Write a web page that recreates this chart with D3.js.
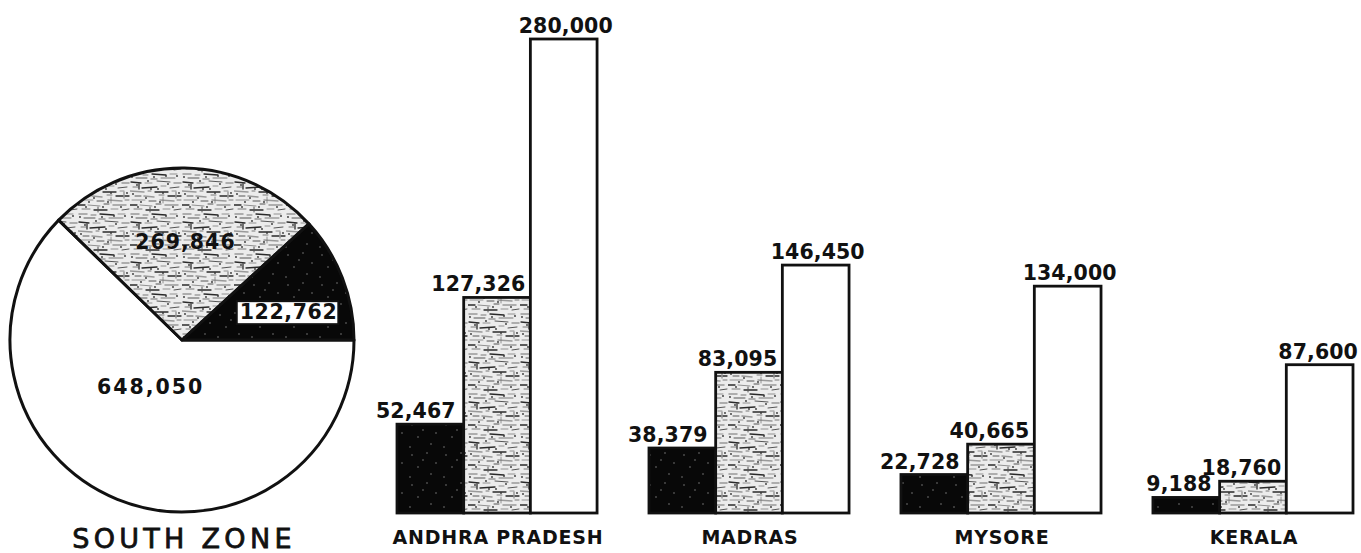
<!DOCTYPE html>
<html>
<head>
<meta charset="utf-8">
<script src="https://cdn.jsdelivr.net/npm/d3@7"></script>
<style>
  html, body { margin: 0; padding: 0; background: #fff; }
  svg { display: block; }
  text { font-family: "DejaVu Sans", sans-serif; fill: #111; }
</style>
</head>
<body>
<svg id="chart" width="1361" height="553"></svg>
<script>
// ---------- DATA ----------
const states = ["ANDHRA PRADESH", "MADRAS", "MYSORE", "KERALA"];
const series = ["black", "stippled", "white"];
const blackValues = [52467, 38379, 22728, 9188];
const stippledValues = [127326, 83095, 40665, 18760];
const whiteValues = [280000, 146450, 134000, 87600];
const pieLabels = ["white", "stippled", "black"];
const pieValues = [648050, 269846, 122762];
const pieTitle = "SOUTH ZONE";

// ---------- SETUP ----------
const W = 1361;
const svg = d3.select("#chart");
const defs = svg.append("defs");
const fmt = d3.format(",");

// stipple texture (hand-drawn streak tile)
const stip = defs.append("pattern").attr("id", "stipple")
  .attr("patternUnits", "userSpaceOnUse").attr("width", 52).attr("height", 40);
stip.append("rect").attr("width", 52).attr("height", 40).attr("fill", "#ececec");
const strokes = [
  [1,2,11,3],[15,3,22,3],[27,1,40,2],[44,3,51,3],
  [3,7,8,7],[12,8,27,7],[31,6,36,6],[40,8,49,7],
  [0,11,14,12],[18,11,21,11],[25,12,38,12],[42,11,46,11],
  [5,16,11,16],[14,16,24,17],[29,15,34,15],[38,16,51,16],
  [2,20,15,20],[19,21,26,21],[30,20,44,21],[47,20,51,20],
  [0,25,7,25],[10,25,22,26],[26,24,31,24],[35,25,48,25],
  [4,29,12,29],[16,30,29,30],[33,29,40,29],[44,30,51,29],
  [1,34,9,34],[13,35,18,35],[22,34,36,35],[40,34,47,34],
  [6,38,17,38],[21,39,27,39],[31,38,45,38],
  [9,4,9,9],[33,17,33,23],[20,27,20,32],[46,12,46,18]
];
stip.selectAll("line").data(strokes).join("line")
  .attr("x1", d => d[0]).attr("y1", d => d[1]).attr("x2", d => d[2]).attr("y2", d => d[3])
  .attr("stroke", (d, i) => ["#2a2a2a", "#777", "#555", "#999", "#444"][i % 5])
  .attr("stroke-width", (d, i) => [1.3, 0.8, 1.0, 1.5, 0.7][i % 5])
  .attr("stroke-linecap", "round");
const specks = [[7,5],[21,9],[33,13],[11,22],[25,27],[3,14],[18,1],[30,22],[16,18],[8,27],
                [38,4],[49,13],[43,27],[36,36],[2,37],[24,37],[47,36],[28,9]];
stip.selectAll("circle").data(specks).join("circle")
  .attr("cx", d => d[0]).attr("cy", d => d[1]).attr("r", 0.9).attr("fill", "#333");

// black texture
const blk = defs.append("pattern").attr("id", "blackTex")
  .attr("patternUnits", "userSpaceOnUse").attr("width", 34).attr("height", 30);
blk.append("rect").attr("width", 34).attr("height", 30).attr("fill", "#080808");
const dots = [[4,5],[19,3],[28,13],[10,17],[23,24],[2,27],[15,10]];
blk.selectAll("circle").data(dots).join("circle")
  .attr("cx", d => d[0]).attr("cy", d => d[1]).attr("r", 0.8)
  .attr("fill", "#fff").attr("opacity", 0.45);

const fillFor = { black: "url(#blackTex)", stippled: "url(#stipple)", white: "#fff" };

// ---------- PIE ----------
const cx = 182, cy = 340, R = 172;
const pie = d3.pie().sort(null).value(d => d.v)
  .startAngle(Math.PI / 2).endAngle(Math.PI / 2 + 2 * Math.PI);
const arcs = pie(pieLabels.map((k, i) => ({ k, v: pieValues[i] })));
const arc = d3.arc().innerRadius(0).outerRadius(R);
const gPie = svg.append("g").attr("transform", `translate(${cx},${cy})`);
gPie.selectAll("path").data(arcs).join("path")
  .attr("d", arc)
  .attr("fill", d => fillFor[d.data.k])
  .attr("stroke", "#111").attr("stroke-width", 3).attr("stroke-linejoin", "round");

const labelStyle = {
  white:    { r: 57, dx: -10, dy: -6, ls: 2.0 },
  stippled: { r: 98, dx: 2,   dy: 0,  ls: 1.0 },
  black:    { r: 110, dx: 4,  dy: 12, ls: 0.6, boxed: true }
};
arcs.forEach(d => {
  const st = labelStyle[d.data.k];
  const la = d3.arc().innerRadius(st.r).outerRadius(st.r);
  const [x, y] = la.centroid(d);
  const px = x + st.dx, py = y + st.dy;
  const g = gPie.append("g");
  const t = g.append("text")
    .attr("x", px).attr("y", py)
    .attr("text-anchor", "middle").attr("dominant-baseline", "central")
    .attr("font-weight", "bold").attr("font-size", 20.5)
    .attr("letter-spacing", st.ls)
    .text(fmt(d.data.v));
  if (st.boxed) {
    const bb = t.node().getBBox();
    g.insert("rect", "text")
      .attr("x", bb.x - 3).attr("y", bb.y + 1)
      .attr("width", bb.width + 4).attr("height", bb.height - 1)
      .attr("fill", "#fff").attr("stroke", "#111").attr("stroke-width", 2);
  }
});

svg.append("text")
  .attr("x", cx + 2).attr("y", 548)
  .attr("text-anchor", "middle")
  .attr("font-size", 27).attr("letter-spacing", 4.3)
  .attr("stroke", "#111").attr("stroke-width", 0.8)
  .text(pieTitle);

// ---------- BARS ----------
const baseY = 513;
const x0 = d3.scaleBand().domain(states).range([397, 1353]).paddingInner(0.206).paddingOuter(0);
const x1 = d3.scaleBand().domain(series).range([0, x0.bandwidth()]).padding(0);
const y = d3.scaleLinear().domain([0, 280000]).range([baseY, 39]);

const valuesBy = { black: blackValues, stippled: stippledValues, white: whiteValues };
const barData = [];
states.forEach((s, i) => series.forEach(k => barData.push({ s, k, v: valuesBy[k][i] })));

const gBars = svg.append("g");
gBars.selectAll("rect").data(barData).join("rect")
  .attr("x", d => x0(d.s) + x1(d.k))
  .attr("y", d => y(d.v))
  .attr("width", x1.bandwidth())
  .attr("height", d => baseY - y(d.v))
  .attr("fill", d => fillFor[d.k])
  .attr("stroke", "#111").attr("stroke-width", 2.8);

const vals = gBars.selectAll("text.val").data(barData).join("text")
  .attr("class", "val")
  .attr("x", d => {
    const left = x0(d.s) + x1(d.k), w = x1.bandwidth();
    if (d.k === "white") return left + w / 2 + 2;
    if (d.k === "black") return left + w - 8;
    return left + w - 5;
  })
  .attr("y", d => y(d.v) - 6)
  .attr("text-anchor", d => d.k === "white" ? "middle" : "end")
  .attr("font-weight", "bold").attr("font-size", 20.5)
  .attr("letter-spacing", 0.1)
  .text(d => fmt(d.v));
// keep labels inside the page
vals.each(function() {
  const bb = this.getBBox();
  const over = bb.x + bb.width - (W - 3);
  if (over > 0) d3.select(this).attr("x", +d3.select(this).attr("x") - over);
});

// category labels
svg.append("g").selectAll("text").data(states).join("text")
  .attr("x", d => x0(d) + x0.bandwidth() / 2 + 1)
  .attr("y", 544)
  .attr("text-anchor", "middle")
  .attr("font-weight", "bold").attr("font-size", 19)
  .attr("letter-spacing", 0.8)
  .text(d => d);
</script>
</body>
</html>
